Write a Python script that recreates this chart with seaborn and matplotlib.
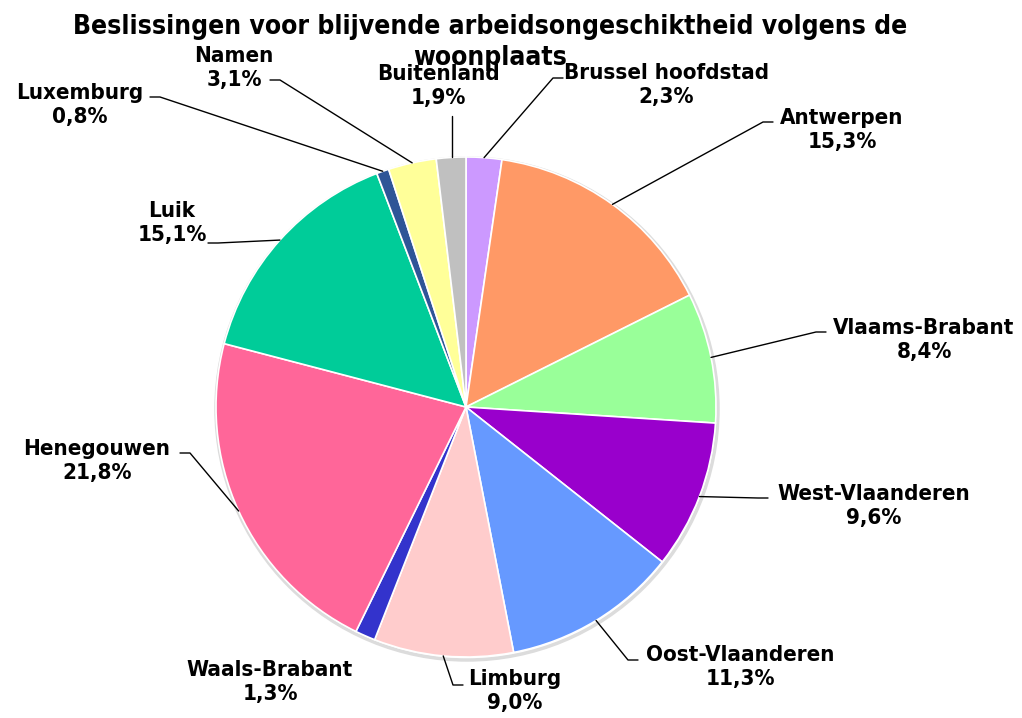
import matplotlib.pyplot as plt
import numpy as np
import seaborn as sns
from matplotlib.patches import Circle

REGIONS = [
    "Brussel hoofdstad", "Antwerpen", "Vlaams-Brabant", "West-Vlaanderen",
    "Oost-Vlaanderen", "Limburg", "Waals-Brabant", "Henegouwen", "Luik",
    "Luxemburg", "Namen", "Buitenland",
]
SHARES = [2.3, 15.3, 8.4, 9.6, 11.3, 9.0, 1.3, 21.8, 15.1, 0.8, 3.1, 1.9]
PCT_LABELS = ["2,3%", "15,3%", "8,4%", "9,6%", "11,3%", "9,0%", "1,3%",
              "21,8%", "15,1%", "0,8%", "3,1%", "1,9%"]
TITLE_LINES = ["Beslissingen voor blijvende arbeidsongeschiktheid volgens de",
               "woonplaats"]

COLORS = ["#CC99FF", "#FF9966", "#99FF99", "#9900CC", "#6699FF", "#FFCCCC",
          "#3333CC", "#FF6699", "#00CC99", "#2F5597", "#FFFF99", "#C0C0C0"]

# label layout in pixels: text centre, end of leader line at the text
# (None = no leader), side the leader comes from
LABEL_POS = {
    "Brussel hoofdstad": ((666, 85), (563, 78), "l"),
    "Antwerpen": ((842, 130), (773, 122), "l"),
    "Vlaams-Brabant": ((924, 340), (826, 332), "l"),
    "West-Vlaanderen": ((874, 506), (768, 498), "l"),
    "Oost-Vlaanderen": ((740, 667), (638, 660), "l"),
    "Limburg": ((515, 691), (463, 685), "l"),
    "Waals-Brabant": ((270, 682), None, "l"),
    "Henegouwen": ((97, 461), (180, 453), "r"),
    "Luik": ((172, 223), (208, 243), "r"),
    "Luxemburg": ((80, 105), (150, 97), "r"),
    "Namen": ((234, 68), (270, 80), "r"),
    "Buitenland": ((438, 86), (452, 116), "v"),
}

W, H = 1022, 718
CX, CY, R = 466, 407, 250

sns.set_theme(style="white")
plt.rcParams["font.family"] = ["DejaVu Sans"]

fig = plt.figure(figsize=(W / 100, H / 100), dpi=100)
ax = fig.add_axes([0, 0, 1, 1])


def py(y):
    return H - y


# soft shadow round the pie
ax.add_patch(Circle((CX + 1, py(CY) - 2), R + 1, facecolor="none",
                    edgecolor="#dcdcdc", lw=2.5, zorder=0))

wedges, _ = ax.pie(
    SHARES, colors=COLORS, startangle=90, counterclock=False,
    center=(CX, py(CY)), radius=R, frame=True,
    wedgeprops=dict(edgecolor="white", linewidth=1.2),
)
ax.set_xlim(0, W)
ax.set_ylim(0, H)
ax.set_aspect("equal")
ax.axis("off")

text_kw = dict(fontsize=16, fontweight="bold", fontstretch="condensed",
               ha="center", va="center", color="black")

for w, name, pct in zip(wedges, REGIONS, PCT_LABELS):
    (tx, ty), end, side = LABEL_POS[name]
    ax.text(tx, py(ty), f"{name}\n{pct}", linespacing=1.2, **text_kw)
    if end is None:
        continue
    mid = np.deg2rad((w.theta1 + w.theta2) / 2)
    ax_x = CX + R * np.cos(mid)
    ax_y = py(CY) + R * np.sin(mid)
    ex, ey = end
    if side == "v":
        ax.plot([ex, ex], [py(ey), ax_y], color="black", lw=1)
        continue
    elbow = ex - 10 if side == "l" else ex + 10
    ax.plot([ax_x, elbow, ex], [ax_y, py(ey), py(ey)], color="black", lw=1)

# title, drawn line by line as in the original (second line sits over the labels)
for line, y in zip(TITLE_LINES, [27, 58]):
    ax.text(490, py(y), line, fontsize=19, fontweight="bold",
            fontstretch="condensed", color="black", ha="center", va="center")

fig.savefig("out.png", dpi=100, facecolor="white")
